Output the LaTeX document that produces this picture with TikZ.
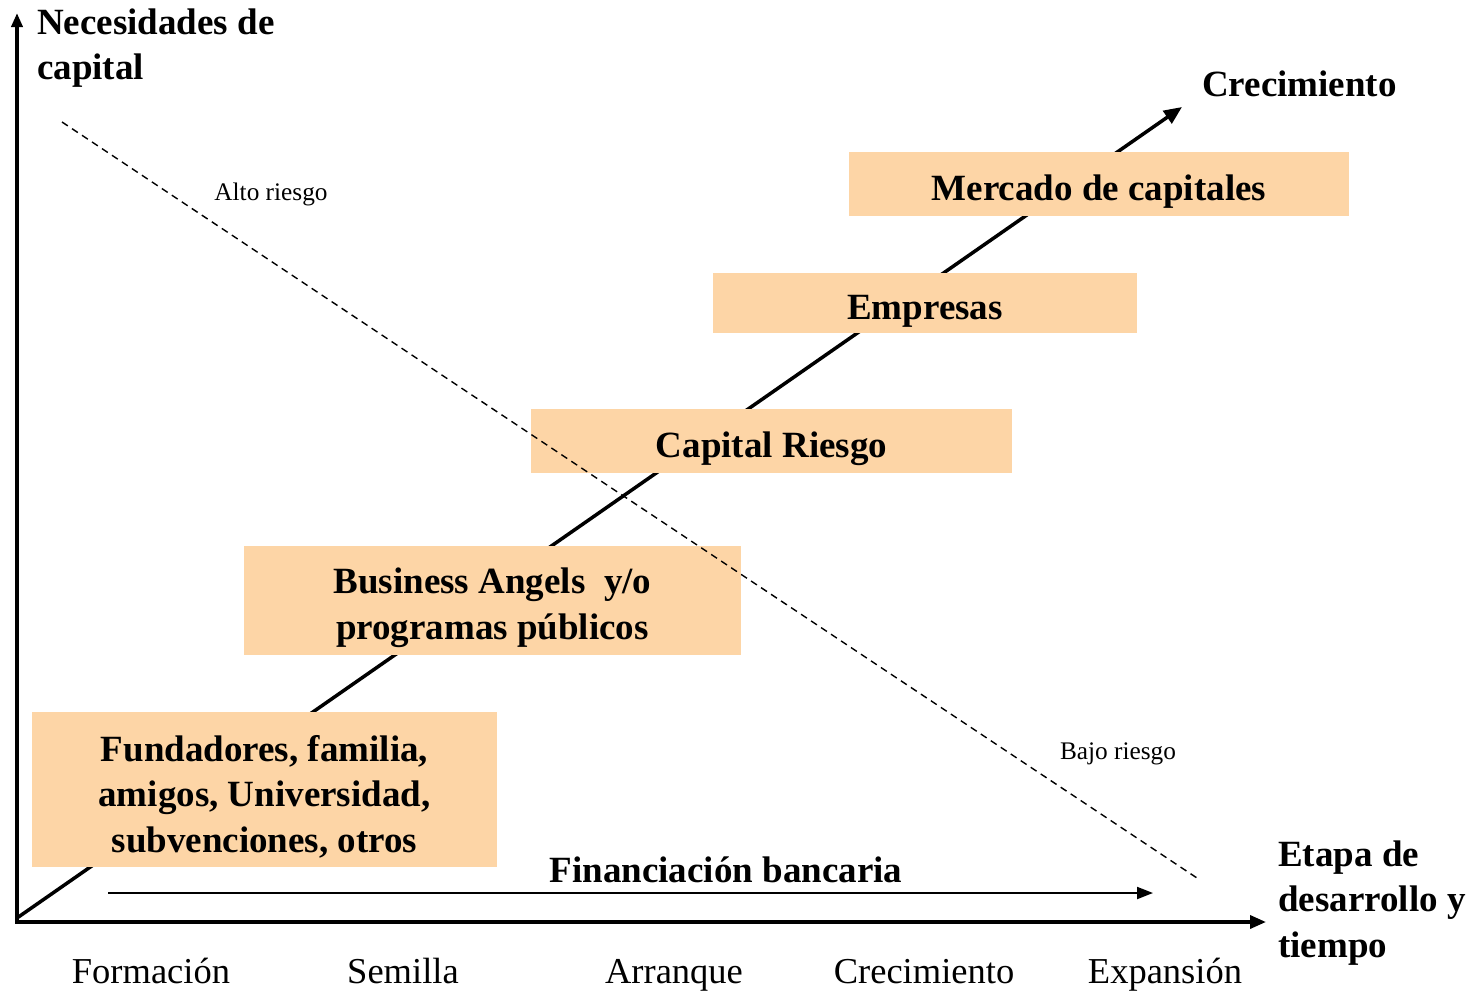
\documentclass[tikz,border=0pt]{standalone}
\usepackage{fontspec}
\setmainfont{Liberation Serif}
\usetikzlibrary{arrows.meta}
\definecolor{peach}{HTML}{FDD5A6}
\begin{document}
\begin{tikzpicture}[x=1pt,y=-1pt,
  box/.style={fill=peach, inner sep=0pt},
  btext/.style={align=center, inner sep=0pt, font=\fontsize{37}{45.5}\selectfont\bfseries},
  blab/.style={font=\fontsize{37}{45.5}\selectfont\bfseries, align=left, inner sep=0pt},
  rlab/.style={font=\fontsize{36.5}{42}\selectfont, inner sep=0pt, anchor=base},
  slab/.style={font=\fontsize{25.3}{28}\selectfont, inner sep=0pt},
  thickline/.style={line width=3.5pt},
  dashline/.style={line width=1.4pt, dash pattern=on 7pt off 5pt}]
\useasboundingbox (0,0) rectangle (1468,993);
% coordinates
\coordinate (ytop) at (17,13);
\coordinate (xend) at (1266,922);
\coordinate (gs) at (17,918);
\coordinate (ge) at (1182,107);
\coordinate (ds) at (62,122);
\coordinate (de) at (1197,878);
\coordinate (fs) at (108,893);
\coordinate (fe) at (1153,893);
% growth line
\draw[thickline, -{Triangle[length=18pt,width=15pt]}] (gs) -- (ge);
% boxes
\node[box, minimum width=500pt, minimum height=64pt] (mc) at (1099,184) {};
\node[box, minimum width=424pt, minimum height=60pt] (em) at (925,303) {};
\node[box, minimum width=481pt, minimum height=64pt] (cr) at (771.5,441) {};
\node[box, minimum width=497pt, minimum height=109pt] (ba) at (492.5,600.5) {};
\node[box, minimum width=465pt, minimum height=155pt] (fu) at (264.5,789.5) {};
\node[btext] (mct) at ([yshift=-8pt]mc.center) {Mercado de capitales};
\node[btext] (emt) at ([yshift=-8pt]em.center) {Empresas};
\node[btext] (crt) at ([yshift=-8pt]cr.center) {Capital Riesgo};
\node[btext] (bat) at ([yshift=-7pt]ba.center) {Business Angels\ \ y/o\\programas públicos};
\node[btext] (fut) at ([yshift=-7pt]fu.center) {Fundadores, familia,\\amigos, Universidad,\\subvenciones, otros};
% dashed line
\draw[dashline] (ds) -- (de);
% financiacion arrow
\draw[line width=2pt, -{Triangle[length=16pt,width=12pt]}] (fs) -- (fe);
\node[blab] (fb) at (726,870) {Financiación bancaria};
% axes
\draw[thickline, {Triangle[length=14pt,width=11pt]}-{Triangle[length=16pt,width=13pt]}] (ytop) |- (xend);
% labels
\node[blab, anchor=west] (nc) at (37,48) {Necesidades de\\capital};
\node[blab, anchor=west] (cre) at (1202,84) {Crecimiento};
\node[blab, anchor=west] (et) at (1278,903) {Etapa de\\desarrollo y\\tiempo};
\node[slab] (ar) at (271,194) {Alto riesgo};
\node[slab] (br) at (1118,754) {Bajo riesgo};
\node[rlab] (l1) at (151,983) {Formación};
\node[rlab] (l2) at (403,983) {Semilla};
\node[rlab] (l3) at (674,983) {Arranque};
\node[rlab] (l4) at (924,983) {Crecimiento};
\node[rlab] (l5) at (1165,983) {Expansión};
\end{tikzpicture}
\end{document}
